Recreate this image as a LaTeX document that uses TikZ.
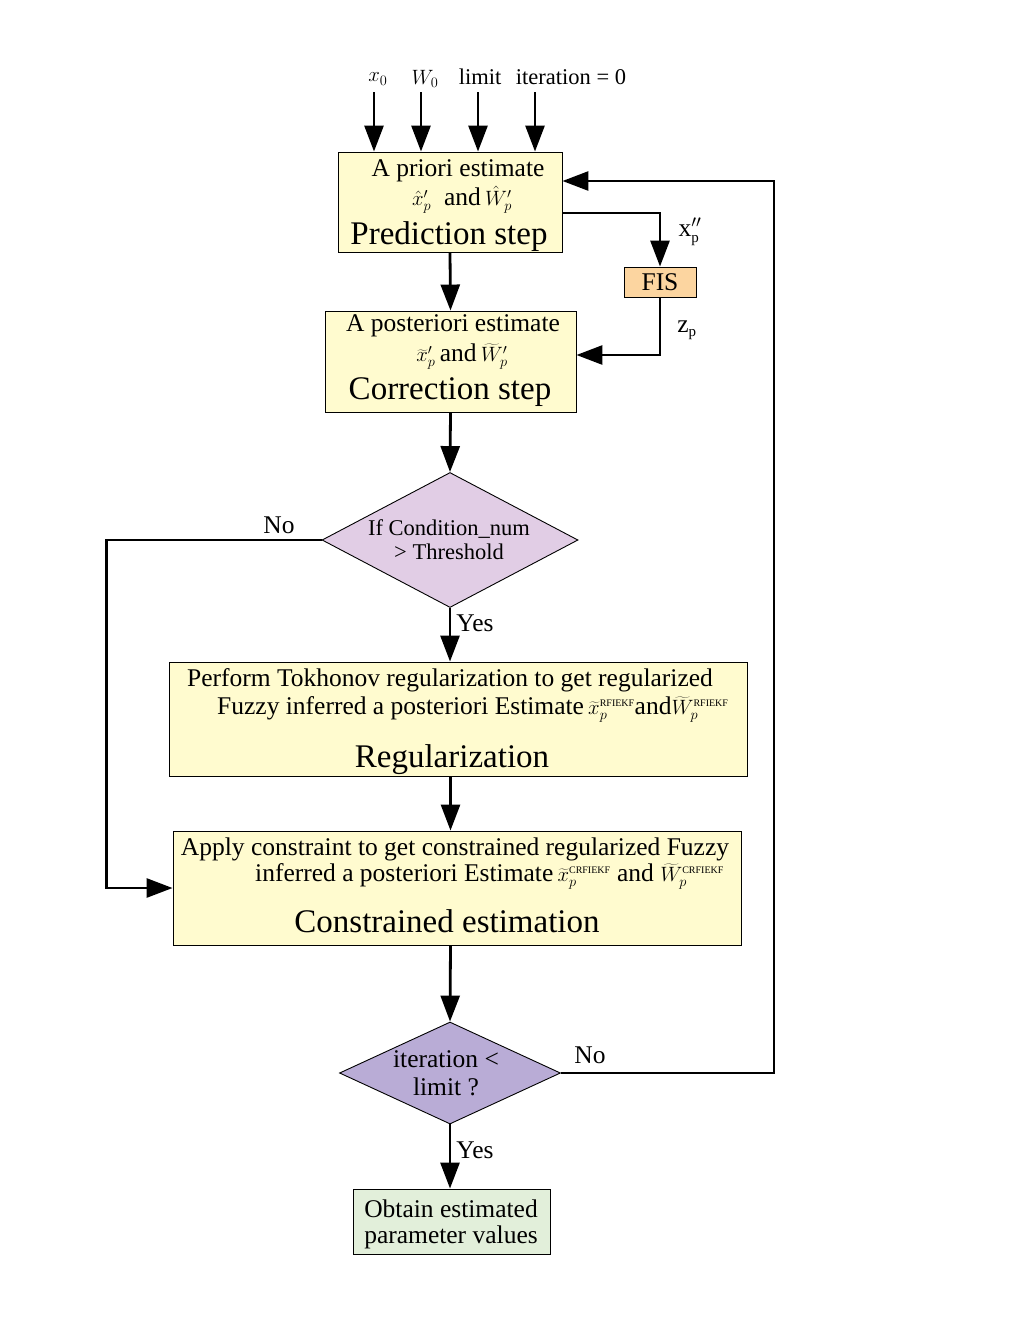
\documentclass[tikz,border=0pt]{standalone}
\usepackage{fontspec}
\setmainfont{Liberation Serif}
\usetikzlibrary{arrows.meta,shapes.geometric,calc}
\definecolor{ybg}{HTML}{FFFBCF}
\definecolor{obg}{HTML}{FCD5A0}
\definecolor{lbg}{HTML}{E1CDE5}
\definecolor{pbg}{HTML}{B9ACD6}
\definecolor{gbg}{HTML}{E2EFDA}
\newcommand{\tinysup}[1]{\mbox{\fontsize{10}{10}\selectfont #1}}
\newcommand{\mfs}[1]{\smash{\fontsize{20}{22}\selectfont$#1$}}
\begin{document}
\begin{tikzpicture}[x=1pt,y=-1pt,
  arr/.style={line width=2.8pt,-{Triangle[length=26pt,width=19pt]}},
  box/.style={draw=black,line width=0.9pt,inner sep=0pt,anchor=center},
  ybox/.style={box,fill=ybg},
  dia/.style={diamond,draw=black,line width=0.9pt,inner sep=0pt,anchor=center},
  big/.style={font=\fontsize{33}{36}\selectfont,inner sep=0pt},
  mid/.style={font=\fontsize{25.5}{28}\selectfont,inner sep=0pt},
  sml/.style={font=\fontsize{22.5}{25}\selectfont,inner sep=0pt},
  mth/.style={font=\fontsize{20}{22}\selectfont,inner sep=0pt},
]
\useasboundingbox (0,0) rectangle (1020,1320);

% boxes
\node[ybox,minimum width=224pt,minimum height=100pt] (pred) at (450,202) {};
\node[ybox,minimum width=251pt,minimum height=101pt] (corr) at (450.5,361.5) {};
\node[box,fill=obg,minimum width=72pt,minimum height=30pt,font=\fontsize{25.5}{28}\selectfont] (fis) at (660,282) {FIS};
\node[dia,fill=lbg,minimum width=256pt,minimum height=135pt] (d1) at (450,540) {};
\node[ybox,minimum width=578pt,minimum height=114pt] (reg) at (458,719) {};
\node[ybox,minimum width=568pt,minimum height=114pt] (cons) at (457,888) {};
\node[dia,fill=pbg,minimum width=221pt,minimum height=102pt] (d2) at (450,1073) {};
\node[box,fill=gbg,minimum width=197pt,minimum height=65pt] (fin) at (451.5,1221.5) {};

% inputs
\node[mth] (lx0) at (378,79) {$x_0$};
\node[mth] (lw0) at (425,79) {$W_0$};
\node[sml] (llim) at (480,77) {limit};
\node[sml] (lit) at (571,77) {iteration = 0};
\coordinate (i0) at (374,92);
\coordinate (i1) at (421,92);
\coordinate (i2) at (478,92);
\coordinate (i3) at (535,92);
\draw[arr] (i0) -- (i0 |- pred.north);
\draw[arr] (i1) -- (i1 |- pred.north);
\draw[arr] (i2) -- (i2 |- pred.north);
\draw[arr] (i3) -- (i3 |- pred.north);

% texts
\node[mid] (t1) at (458,171) {A priori estimate};
\node[mid] (t2) at (462,197) {\mfs{\hat{x}'_p}\ \ and\,\mfs{\hat{W}'_p}};
\node[big] (t3) at (449,237) {Prediction step};

\node[mid] (c1) at (453,326) {A posteriori estimate};
\node[mid] (c2) at (462,353) {\mfs{\widetilde{x}'_p}\,and\,\mfs{\widetilde{W}'_p}};
\node[big] (c3) at (450,392) {Correction step};

\node[sml] (q1) at (449,529) {If Condition\_num};
\node[sml] (q2) at (449,552) {> Threshold};

\node[mid] (r1) at (450,680) {Perform Tokhonov regularization to get regularized};
\node[mid,anchor=west] (r2) at (217,708) {Fuzzy inferred a posteriori Estimate\,\mfs{\widetilde{x}_p^{\tinysup{RFIEKF}}}and\mfs{\widetilde{W}_p^{\tinysup{RFIEKF}}}};
\node[big] (r3) at (452,760) {Regularization};

\node[mid] (k1) at (455,849) {Apply constraint to get constrained regularized Fuzzy};
\node[mid,anchor=west] (k2) at (255,875) {inferred a posteriori Estimate\,\mfs{\widetilde{x}_p^{\tinysup{CRFIEKF}}}\ and\ \mfs{\widetilde{W}_p^{\tinysup{CRFIEKF}}}};
\node[big] (k3) at (447,921) {Constrained estimation};

\node[mid] (e1) at (446,1059) {iteration <};
\node[mid] (e2) at (446,1087) {limit ?};

\node[mid] (f1) at (451,1209) {Obtain estimated};
\node[mid] (f2) at (451,1237) {parameter values};

% labels
\node[mid] (lxp) at (690,232) {${\mbox{x}}''_{\mbox{\fontsize{15}{15}\selectfont p}}$};
\node[mid] (lzp) at (687,330) {${\mbox{z}}_{\mbox{\fontsize{15}{15}\selectfont p}}$};
\node[mid] (no1) at (279,525) {No};
\node[mid] (yes1) at (475,623) {Yes};
\node[mid] (no2) at (590,1055) {No};
\node[mid] (yes2) at (475,1150) {Yes};

% connectors
\draw[arr] (pred.south) -- (corr.north);
\draw[arr] ($(pred.east)+(0,11)$) -| (fis.north);
\draw[arr] (fis.south) |- ($(corr.east)+(0,-6.5)$);
\draw[arr] (corr.south) -- (d1.north);
\draw[arr] (d1.south) -- (reg.north -| d1.south);
\draw[arr] (d1.west) -- ++(-215,0) |- (cons.west);
\draw[arr] (reg.south -| corr.south) -- (cons.north -| corr.south);
\draw[arr] (cons.south -| corr.south) -- (d2.north);
\draw[arr] (d2.south) -- (fin.north -| d2.south);
\draw[arr] (d2.east) -- ++(213,0) |- ($(pred.east)+(0,-21)$);
\end{tikzpicture}
\end{document}
